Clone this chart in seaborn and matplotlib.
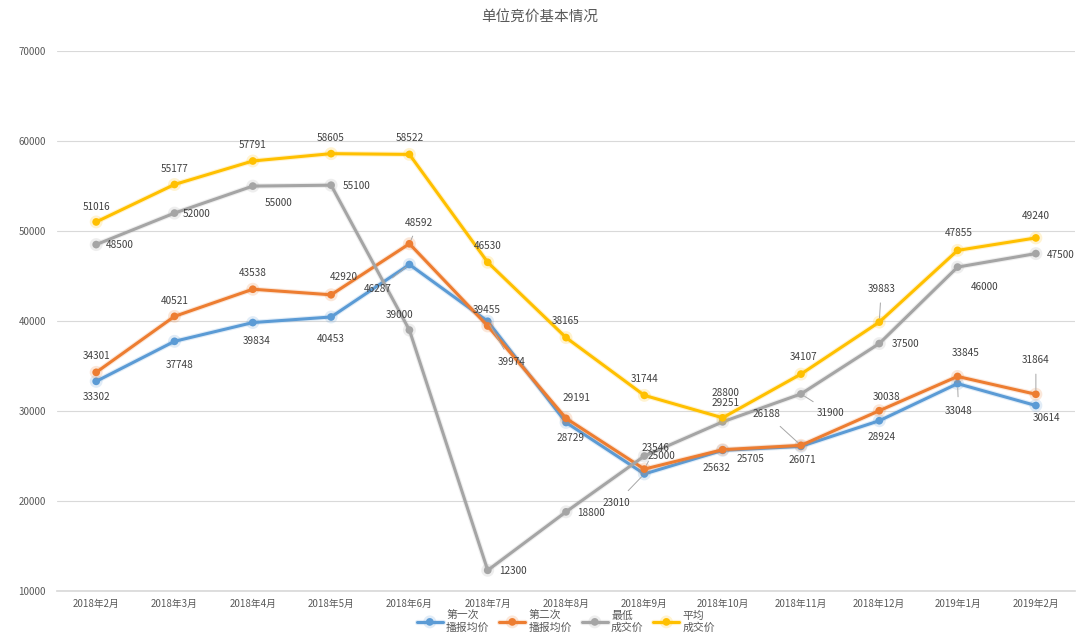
import numpy as np
import pandas as pd
import matplotlib
matplotlib.use("Agg")
import matplotlib.pyplot as plt
import matplotlib.patheffects as pe
import seaborn as sns

# ---------------- data ----------------
months = ["2018年2月", "2018年3月", "2018年4月", "2018年5月", "2018年6月", "2018年7月",
          "2018年8月", "2018年9月", "2018年10月", "2018年11月", "2018年12月",
          "2019年1月", "2019年2月"]
series_names = ["第一次\n播报均价", "第二次\n播报均价", "最低\n成交价", "平均\n成交价"]
first_report = [33302, 37748, 39834, 40453, 46287, 39974, 28729, 23010, 25632, 26071, 28924, 33048, 30614]
second_report = [34301, 40521, 43538, 42920, 48592, 39455, 29191, 23546, 25705, 26188, 30038, 33845, 31864]
lowest_deal = [48500, 52000, 55000, 55100, 39000, 12300, 18800, 25000, 28800, 31900, 37500, 46000, 47500]
average_deal = [51016, 55177, 57791, 58605, 58522, 46530, 38165, 31744, 29251, 34107, 39883, 47855, 49240]
y_ticks = [10000, 20000, 30000, 40000, 50000, 60000, 70000]
title = "单位竞价基本情况"

# ---------------- style ----------------
sns.set_theme(style="white")
plt.rcParams['font.family'] = ['Noto Sans CJK SC', 'DejaVu Sans']
colors = ["#5B9BD5", "#ED7D31", "#A5A5A5", "#FFC000"]
text_color = "#404040"

all_values = [first_report, second_report, lowest_deal, average_deal]
rows = []
for name, vals in zip(series_names, all_values):
    for i, v in enumerate(vals):
        rows.append({"idx": i, "month": months[i], "value": v, "series": name})
df = pd.DataFrame(rows)

# label offsets in pixels (dx, dy with y up), leader flag
offsets = [
    # blue
    [(0, -16, 0), (5, -24, 0), (4, -18, 0), (0, -22, 0), (-32, -25, 1), (24, -41, 1), (5, -16, 0),
     (-28, -29, 1), (-6, -18, 0), (1, -14, 0), (2, -16, 0), (1, -27, 1), (11, -12, 0)],
    # orange
    [(0, 16, 0), (0, 15, 0), (0, 16, 0), (13, 18, 0), (9, 21, 1), (-1, 16, 0), (10, 20, 0),
     (11, 21, 1), (28, -9, 1), (-34, 31, 1), (7, 14, 0), (8, 23, 0), (0, 34, 1)],
    # gray
    [(24, 0, 0), (22, -1, 0), (26, -17, 0), (25, -1, 0), (-10, 15, 0), (25, -1, 0), (25, -1, 0),
     (17, 0, 0), (3, 29, 0), (30, -19, 1), (26, 0, 0), (27, -20, 0), (25, -1, 0)],
    # yellow
    [(0, 15, 0), (0, 16, 0), (0, 16, 0), (0, 16, 0), (0, 16, 0), (0, 16, 0), (0, 17, 0),
     (0, 16, 0), (3, 15, 0), (3, 17, 0), (2, 33, 1), (1, 17, 0), (0, 22, 0)],
]

fig = plt.figure(figsize=(10.8, 6.39), dpi=100)
ax = fig.add_axes([0.0528, 0.0751, 0.9426, 0.8449])

sns.lineplot(data=df, x="idx", y="value", hue="series", hue_order=series_names,
             palette=colors, marker="o", markersize=5.5, markeredgewidth=0,
             linewidth=2.2, sort=False, ax=ax, legend=True)

for line in ax.lines:
    line.set_path_effects([pe.Stroke(linewidth=3.8, foreground=line.get_color(), alpha=0.18),
                           pe.Normal()])

for s, vals in enumerate(all_values):
    for i, v in enumerate(vals):
        dx, dy, lead = offsets[s][i]
        kw = {}
        if lead:
            kw["arrowprops"] = dict(arrowstyle="-", color="#A6A6A6", lw=0.7,
                                    shrinkA=4, shrinkB=3)
        ax.annotate(f"{v}", xy=(i, v), xytext=(dx, dy), textcoords="offset pixels",
                    ha="center", va="center", fontsize=7.2, color=text_color, **kw)

ax.set_xlim(-0.5, len(months) - 0.5)
ax.set_ylim(10000, 70000)
ax.set_yticks(y_ticks)
ax.set_yticklabels([str(t) for t in y_ticks], fontsize=7, color="#595959")
ax.set_xticks(range(len(months)))
ax.set_xticklabels(months, fontsize=7, color="#595959")
ax.set_xticks(np.arange(-0.5, len(months), 1), minor=True)
ax.tick_params(axis="x", which="major", length=0, pad=6)
ax.tick_params(axis="x", which="minor", length=3, color="#D9D9D9", direction="out")
ax.tick_params(axis="y", length=0, pad=8)
ax.set_xlabel("")
ax.set_ylabel("")
ax.grid(axis="y", color="#D9D9D9", linewidth=0.8)
for sp in ["top", "right", "left"]:
    ax.spines[sp].set_visible(False)
ax.spines["bottom"].set_color("#D9D9D9")

fig.suptitle(title, x=0.5, y=0.985, fontsize=10.5, color="#595959")

handles, labels = ax.get_legend_handles_labels()
ax.legend(handles, labels, loc="upper center", bbox_to_anchor=(0.5, -0.022), ncol=4,
          frameon=False, fontsize=7.8, handlelength=2.4, handletextpad=0.3,
          columnspacing=0.9, labelspacing=0.2, labelcolor="#595959",
          borderpad=0.2)

fig.savefig("out.png", dpi=100)
